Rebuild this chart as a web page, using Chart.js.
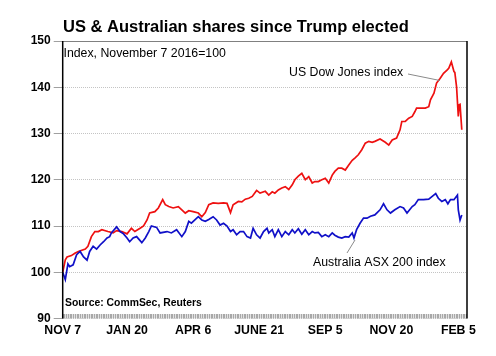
<!DOCTYPE html>
<html>
<head>
<meta charset="utf-8">
<script src="https://cdn.jsdelivr.net/npm/chart.js@4/dist/chart.umd.min.js"></script>
<style>
html,body{margin:0;padding:0;background:#fff;}
#wrap{width:496px;height:356px;position:relative;}
</style>
</head>
<body>
<div id="wrap"><canvas id="c" width="496" height="356"></canvas></div>
<script>
// ---- data ----
const TITLE = 'US & Australian shares since Trump elected';
const SUBTITLE = 'Index, November 7 2016=100';
const SOURCE = 'Source: CommSec, Reuters';
const US_LABEL = 'US Dow Jones index';
const ASX_LABEL = 'Australia ASX 200 index';

// x = days since November 7 2016
const tickDays = [0, 74, 150, 226, 302, 378, 455];
const tickLabels = ['NOV 7', 'JAN 20', 'APR 6', 'JUNE 21', 'SEP 5', 'NOV 20', 'FEB 5'];
const yTicks = [90, 100, 110, 120, 130, 140, 150];

const usDays = [0,3,5,10,14,18,26,29,33,37,41,45,52,58,62,68,74,79,83,89,93,97,100,106,110,115,118,122,127,133,137,141,145,150,156,160,164,168,173,179,185,189,193,196,202,206,210,214,218,223,227,233,237,241,244,248,252,256,260,264,267,271,275,279,283,287,290,294,298,302,306,310,313,317,321,325,329,333,336,340,344,348,352,356,359,365,371,375,379,384,388,390,394,398,402,405,407,411,417,421,423,427,430,434,438,442,444,447,450,451,453,455,456,457,459];
const usValues = [100,102.7,103.3,103.6,104.1,104.5,105,105.6,107.7,108.8,108.8,109.2,108.8,108.5,109,108.8,108.3,109.5,108.8,109.5,110,111.3,112.8,113.1,113.9,115.7,114.6,114.2,113.9,114.2,113.5,112.8,113.3,113.1,112.8,112,112.9,114.6,115,114.9,115,114.9,112.9,114.6,115.3,115.2,115.8,116,116.4,117.7,117.1,117.5,116.7,117.4,117.1,117.8,118.2,118.5,117.9,118.9,120,120.8,121.4,120,120.7,119.3,119.6,119.6,120,120.3,119.3,121,121.8,122.5,122.5,122.1,123.2,124.2,124.7,125.4,126.5,127.9,128.3,128.1,128.3,128.8,128.1,127.5,128.6,129,130.8,132.6,132.6,133.3,133.7,134.7,135.5,135.5,135.5,135.8,137.3,138.7,140.9,141.9,143,143.7,144.1,145.5,143.4,143.2,140.1,133.7,136.2,136.3,130.8];

const asxDays = [0,3,6,8,12,16,20,24,28,31,35,39,43,47,51,54,56,62,66,70,74,77,81,85,91,95,99,102,108,112,120,125,131,137,141,145,148,152,156,160,164,168,173,177,181,185,189,193,196,200,204,208,212,216,219,223,227,231,235,237,241,244,248,252,256,260,264,267,271,275,279,283,287,290,294,298,302,306,310,313,317,321,325,329,333,335,338,342,346,350,354,359,365,369,373,377,382,388,392,396,402,405,409,415,421,425,429,432,436,440,443,446,450,454,455,457,459];
const asxValues = [100,98.4,101.8,101.2,101.6,103.8,104.5,103.3,102.6,104.5,105.6,105,105.9,106.6,107.4,107.7,108.5,109.8,108.8,108.3,107.4,106.6,107.4,107.7,106.4,107.4,108.8,110,109.7,108.5,108.8,108.5,109.2,107.7,108.8,111,110.6,111.3,112,111.3,111,111.4,112,111.3,110.2,110.6,110,108.8,109.2,108.1,108.8,108.8,107.7,107.4,109.5,108.1,107.4,108.8,109.5,108.5,109.2,107.7,109.2,107.7,108.8,108.1,109.2,108.5,109.4,108.2,109.2,108.1,108.8,108.5,108.6,107.7,108.1,107.7,108.5,108,107.6,107.4,107.7,107.6,108.5,107.4,109.2,110.6,111.7,111.7,112.1,112.4,113.5,114.8,113.5,112.8,113.5,114.2,113.9,112.8,114.2,114.6,115.7,115.7,115.8,116.4,117,116,115.3,115.7,114.8,115.7,115.7,116.7,113.5,111.3,112.4];

const FONT = '"Liberation Sans", Arial, Helvetica, sans-serif';

const toXY = (xs, ys) => xs.map((x, i) => ({x: x, y: ys[i]}));

const decor = {
  id: 'decor',
  beforeDatasetsDraw(chart) {
    const ctx = chart.ctx, a = chart.chartArea, xs = chart.scales.x;
    ctx.save();
    // dense minor ticks along the bottom
    ctx.fillStyle = '#e2e2e2';
    ctx.fillRect(a.left, a.bottom - 4.5, a.right - a.left, 4.5);
    ctx.strokeStyle = '#a8a8a8';
    ctx.lineWidth = 1;
    ctx.beginPath();
    for (let d = 0; d <= xs.max; d += 2) {
      const px = Math.round(xs.getPixelForValue(d)) + 0.5;
      ctx.moveTo(px, a.bottom - 4.5);
      ctx.lineTo(px, a.bottom);
    }
    ctx.stroke();
    ctx.restore();
  },
  afterDraw(chart) {
    const ctx = chart.ctx, a = chart.chartArea;
    ctx.save();
    // frame
    ctx.strokeStyle = '#808080';
    ctx.lineWidth = 1;
    ctx.beginPath();
    ctx.moveTo(a.left, a.top + 0.5); ctx.lineTo(a.right, a.top + 0.5);
    ctx.stroke();
    ctx.strokeStyle = '#000';
    ctx.lineWidth = 1.5;
    ctx.beginPath();
    ctx.moveTo(a.left, a.top); ctx.lineTo(a.left, a.bottom);
    ctx.moveTo(a.right, a.top); ctx.lineTo(a.right, a.bottom);
    ctx.stroke();

    // texts
    ctx.fillStyle = '#000';
    ctx.textBaseline = 'alphabetic';
    ctx.textAlign = 'left';
    ctx.font = 'bold 16.5px ' + FONT;
    ctx.fillText(TITLE, 63, 31.5);
    ctx.font = '12.3px ' + FONT;
    ctx.fillText(SUBTITLE, 63.5, 57);
    ctx.fillText(US_LABEL, 289, 75.5);
    ctx.fillText(ASX_LABEL, 313, 265.5);
    ctx.font = 'bold 10.4px ' + FONT;
    ctx.fillText(SOURCE, 65, 306);

    // leader lines
    ctx.strokeStyle = '#8a8a8a';
    ctx.lineWidth = 1;
    ctx.beginPath();
    ctx.moveTo(408, 74); ctx.lineTo(440, 80.5);
    ctx.moveTo(347, 253); ctx.lineTo(355, 240);
    ctx.stroke();
    ctx.restore();
  }
};

new Chart(document.getElementById('c'), {
  type: 'line',
  data: {
    datasets: [
      {
        label: ASX_LABEL,
        data: toXY(asxDays, asxValues),
        borderColor: '#1010c8',
        borderWidth: 1.7,
        pointRadius: 0,
        tension: 0,
        fill: false
      },
      {
        label: US_LABEL,
        data: toXY(usDays, usValues),
        borderColor: '#ee1111',
        borderWidth: 1.7,
        pointRadius: 0,
        tension: 0,
        fill: false
      }
    ]
  },
  options: {
    responsive: false,
    animation: false,
    events: [],
    layout: {padding: {left: 0, right: 29, top: 41, bottom: 0}},
    plugins: {legend: {display: false}, tooltip: {enabled: false}, title: {display: false}},
    scales: {
      x: {
        type: 'linear',
        min: 0,
        max: 465,
        afterBuildTicks(scale) { scale.ticks = tickDays.map(v => ({value: v})); },
        afterFit(scale) { scale.height = 37.5; },
        grid: {display: false, drawTicks: false},
        border: {display: false},
        ticks: {
          autoSkip: false,
          maxRotation: 0,
          padding: 5,
          color: '#000',
          font: {family: FONT, size: 12.3, weight: 'bold'},
          callback(v) { const i = tickDays.indexOf(v); return i >= 0 ? tickLabels[i] : ''; }
        }
      },
      y: {
        min: 90,
        max: 150,
        afterBuildTicks(scale) { scale.ticks = yTicks.map(v => ({value: v})); },
        afterFit(scale) { scale.width = 62.7; },
        grid: {color: '#c4c4c4', lineWidth: 1, tickLength: 9, tickColor: '#a0a0a0', tickBorderDash: []},
        border: {display: false, dash: [1, 1]},
        ticks: {
          padding: 3,
          color: '#000',
          font: {family: FONT, size: 12, weight: 'bold'}
        }
      }
    }
  },
  plugins: [decor]
});
</script>
</body>
</html>
